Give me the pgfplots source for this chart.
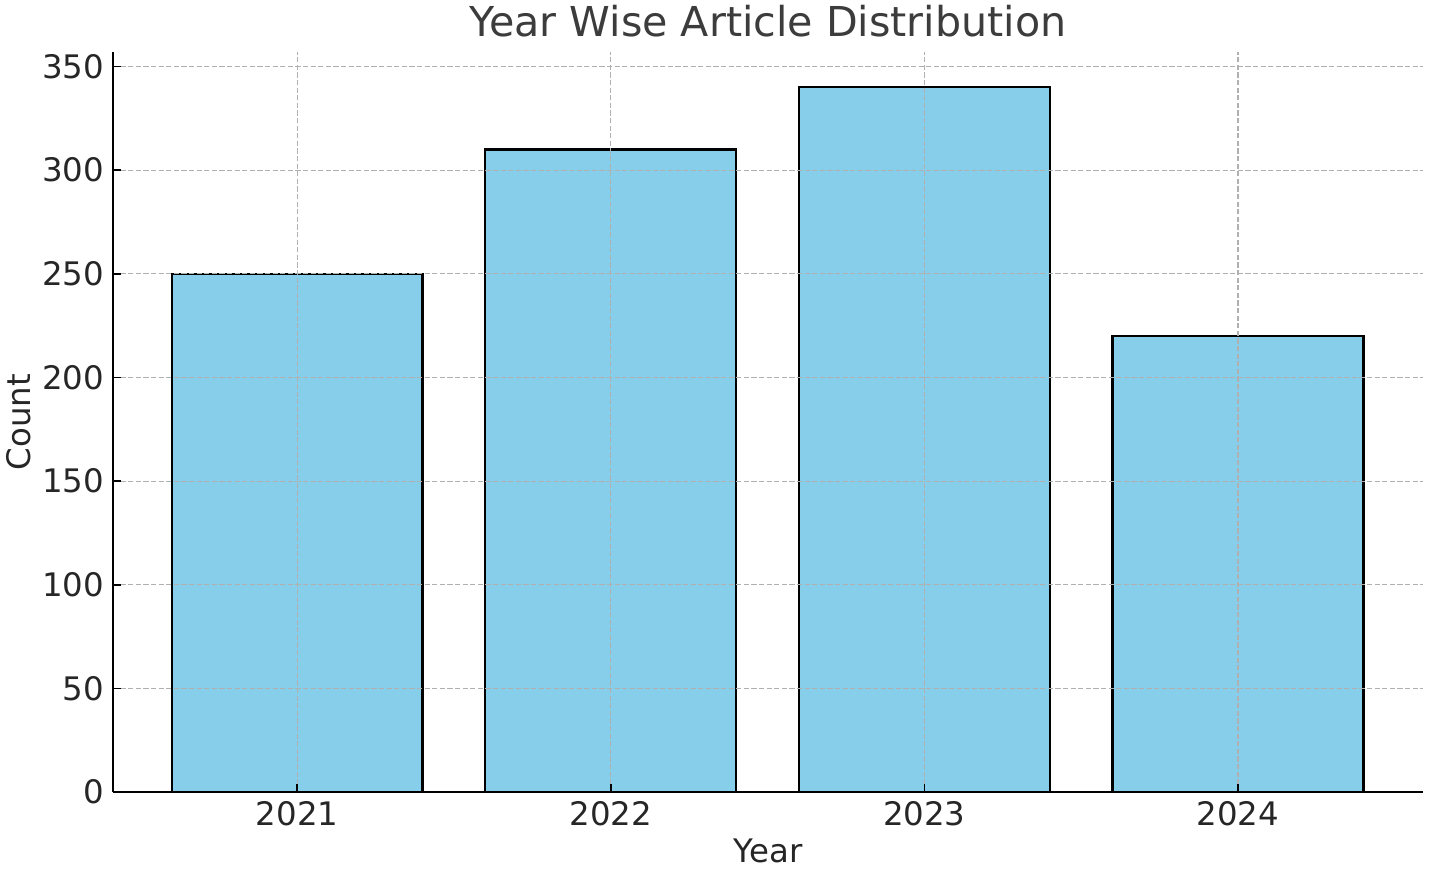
\documentclass[border=0pt]{standalone}
\usepackage{fontspec}
\setmainfont{DejaVu Sans}
\usepackage{pgfplots}
\pgfplotsset{compat=1.18}
\definecolor{skyblue}{HTML}{87CEEB}
\definecolor{gridgray}{HTML}{B0B0B0}
\definecolor{txt}{HTML}{262626}
\begin{document}
\begin{tikzpicture}[x=0.5bp,y=0.5bp]
\useasboundingbox (-113,-79) rectangle (1318,792);
\begin{axis}[
  at={(0,0)}, anchor=south west,
  scale only axis,
  width=655bp, height=370bp,
  xmin=-0.587, xmax=3.59,
  ymin=0, ymax=357,
  axis x line*=bottom, axis y line*=left,
  axis line style={line width=0.9bp, black},
  xtick=data,
  xticklabels={2021,2022,2023,2024},
  ytick={0,50,...,350},
  tick align=inside,
  major tick length=4bp,
  tick style={line width=0.8bp, black},
  grid=major,
  major grid style={line width=0.55bp, gridgray, dash pattern=on 2.6bp off 1.2bp},
  axis on top,
  /pgf/number format/assume math mode=true,
  ticklabel style={font=\fontsize{16.2bp}{19bp}\selectfont, text=txt},
  label style={font=\fontsize{16.2bp}{19bp}\selectfont, text=txt},
  xlabel={Year}, ylabel={Count},
  xlabel style={yshift=0bp},
  ylabel style={yshift=-1.5bp},
  title={Year Wise Article Distribution},
  title style={font=\fontsize{20.6bp}{24bp}\selectfont, text=txt!90!white, yshift=-2bp},
  xticklabel style={yshift=-1bp},
  yticklabel style={xshift=-1bp},
]
\addplot[ybar, bar width=0.8, bar shift=0pt, fill=skyblue, draw=black, line width=1.1bp]
  coordinates {(0,250) (1,310) (2,340) (3,220)};
\end{axis}
\end{tikzpicture}
\end{document}
